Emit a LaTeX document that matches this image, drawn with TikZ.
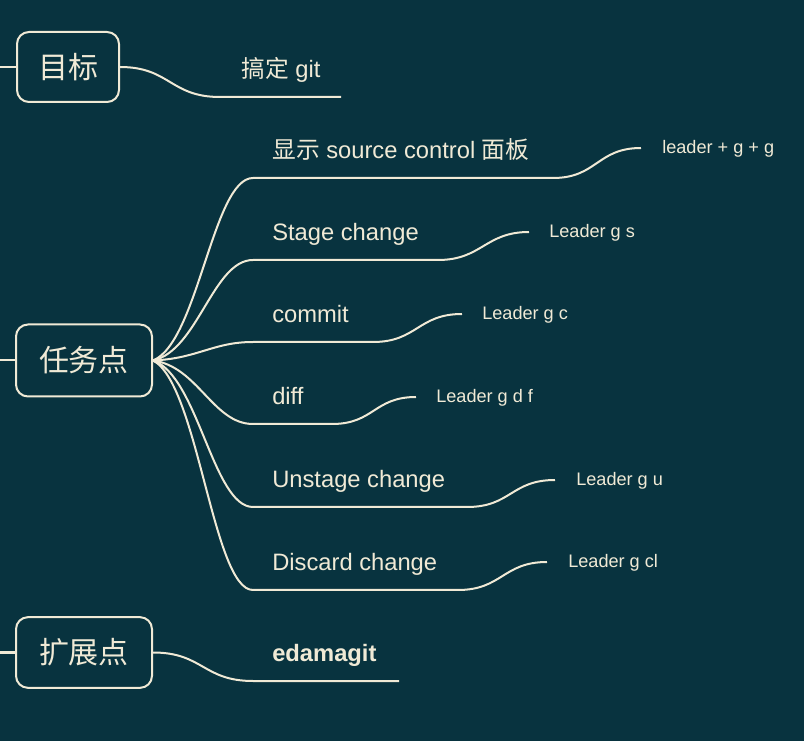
\documentclass[tikz,border=0pt]{standalone}
\usepackage{fontspec}
\setmainfont{Liberation Sans}
\newfontfamily\cjk{Noto Sans CJK SC}
\definecolor{bg}{HTML}{08333F}
\definecolor{ink}{HTML}{F0EAD6}
\begin{document}
\begin{tikzpicture}[x=0.75pt,y=-0.75pt,
  conn/.style={draw=ink,line width=1.5pt},
  topic/.style={draw=ink,line width=1.5pt,rounded corners=9pt,inner sep=0pt,
    text=ink,font=\cjk\fontsize{22.5pt}{27pt}\selectfont,minimum width=76.5pt},
  sub/.style={anchor=base west,inner sep=0pt,text=ink,font=\fontsize{17.8pt}{21pt}\selectfont},
  key/.style={anchor=base west,inner sep=0pt,text=ink,font=\fontsize{13.6pt}{16pt}\selectfont}]
\fill[bg] (0,0) rectangle (804,741);
\useasboundingbox (0,0) rectangle (804,741);

% main topics
\node[topic,minimum width=76.5pt,minimum height=52.5pt] (goal) at (68,67) {目标};
\node[topic,minimum width=102pt,minimum height=54pt] (task) at (84,360.5) {任务点};
\node[topic,minimum width=102pt,minimum height=53pt] (ext) at (84,652.5) {扩展点};

% left stubs
\coordinate (sg) at (0,67);
\coordinate (st) at (0,360.5);
\coordinate (se) at (0,652.5);
\draw[conn] (sg) -- (goal.west);
\draw[conn] (st) -- (task.west);
\draw[conn] (se) -- (ext.west);

% goal branch
\coordinate (ga) at (220,97);
\coordinate (gb) at (341,97);
\draw[conn] (goal.east) .. controls +(50,0) and +(-50,0) .. (ga) -- (gb);
\node[sub] (gt) at (241,78) {{\cjk 搞定} git};

% task branches
\coordinate (a1) at (253,178); \coordinate (b1) at (553,178); \coordinate (c1) at (641,148);
\coordinate (a2) at (253,260); \coordinate (b2) at (438,260); \coordinate (c2) at (529,232);
\coordinate (a3) at (253,342); \coordinate (b3) at (373,342); \coordinate (c3) at (462,314);
\coordinate (a4) at (253,424); \coordinate (b4) at (332,424); \coordinate (c4) at (416,397);
\coordinate (a5) at (253,507); \coordinate (b5) at (467,507); \coordinate (c5) at (555,480);
\coordinate (a6) at (253,590); \coordinate (b6) at (458,590); \coordinate (c6) at (547,562);

\draw[conn] (task.east) .. controls +(45,-18) and +(-40,0) .. (a1) -- (b1)
  .. controls +(44,0) and +(-44,0) .. (c1);
\draw[conn] (task.east) .. controls +(45,-10) and +(-40,0) .. (a2) -- (b2)
  .. controls +(44,0) and +(-44,0) .. (c2);
\draw[conn] (task.east) .. controls +(45,-2) and +(-40,0) .. (a3) -- (b3)
  .. controls +(44,0) and +(-44,0) .. (c3);
\draw[conn] (task.east) .. controls +(45,6) and +(-40,0) .. (a4) -- (b4)
  .. controls +(42,0) and +(-42,0) .. (c4);
\draw[conn] (task.east) .. controls +(45,15) and +(-40,0) .. (a5) -- (b5)
  .. controls +(44,0) and +(-44,0) .. (c5);
\draw[conn] (task.east) .. controls +(45,23) and +(-40,0) .. (a6) -- (b6)
  .. controls +(44,0) and +(-44,0) .. (c6);

\node[sub] (t1) at (272,159) {{\cjk 显示} source control {\cjk 面板}};
\node[sub] (t2) at (272,241) {Stage change};
\node[sub] (t3) at (272,323) {commit};
\node[sub] (t4) at (272,405) {diff};
\node[sub] (t5) at (272,488) {Unstage change};
\node[sub] (t6) at (272,571) {Discard change};

\node[key] (k1) at (662,154) {leader + g + g};
\node[key] (k2) at (549,238) {Leader g s};
\node[key] (k3) at (482,320) {Leader g c};
\node[key] (k4) at (436,403) {Leader g d f};
\node[key] (k5) at (576,486) {Leader g u};
\node[key] (k6) at (568,568) {Leader g cl};

% extension branch
\coordinate (ea) at (253,681);
\coordinate (eb) at (399,681);
\draw[conn] (ext.east) .. controls +(50,0) and +(-50,0) .. (ea) -- (eb);
\node[sub,font=\bfseries\fontsize{17.8pt}{21pt}\selectfont] (et) at (272,662) {edamagit};
\end{tikzpicture}
\end{document}
